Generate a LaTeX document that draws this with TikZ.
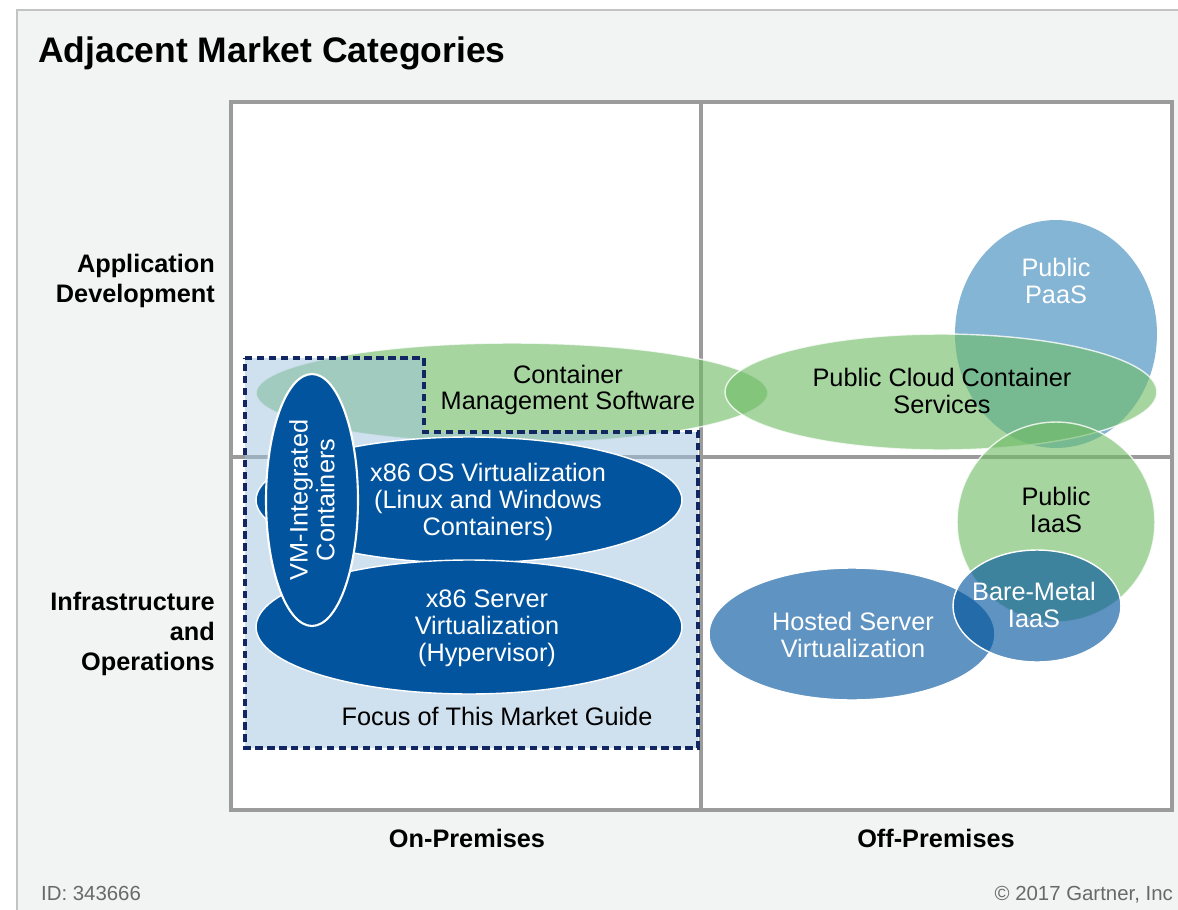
\documentclass[tikz,border=0pt]{standalone}
\usepackage{fontspec}
\setmainfont{Liberation Sans}
\usetikzlibrary{shapes.geometric}
\definecolor{panelgray}{RGB}{242,243,243}
\definecolor{edgegray}{RGB}{195,195,195}
\definecolor{framegray}{RGB}{155,155,155}
\definecolor{leafgreen}{RGB}{112,188,102}
\definecolor{skyblue}{RGB}{133,181,213}
\definecolor{deepblue}{RGB}{2,84,158}
\definecolor{focusblue}{RGB}{160,195,222}
\definecolor{focusnavy}{RGB}{18,38,98}
\definecolor{notegray}{RGB}{105,105,105}

\begin{document}
\begin{tikzpicture}[x=0.02cm, y=-0.02cm,
  blob/.style = {ellipse, inner sep=0pt, draw=white, line width=0.8pt},
  greenblob/.style = {blob, fill=leafgreen, fill opacity=0.62, draw opacity=0.8},
  paleblob/.style = {blob, fill=skyblue, draw=none},
  blueblob/.style = {blob, fill=deepblue, fill opacity=0.63},
  darkblob/.style = {blob, fill=deepblue},
  txt/.style = {align=center, font=\fontsize{14.4}{15.3}\selectfont},
  head/.style = {font=\bfseries\fontsize{14.4}{17}\selectfont},
  note/.style = {text=notegray, font=\fontsize{11.6}{14}\selectfont}]
\useasboundingbox (0,0) rectangle (1178,910);
\fill[white] (0,0) rectangle (1178,910);
\fill[panelgray] (17,10) rectangle (1178,910);
\draw[edgegray, line width=1.2pt] (17,910) -- (17,10) -- (1178,10);
\node[anchor=base west, font=\bfseries\fontsize{20.2}{24}\selectfont] (title) at (32,62) {Adjacent Market Categories};

\draw[framegray, fill=white, line width=2pt] (231,102) rectangle (1172,810);
\draw[framegray, line width=2pt] (701,102) -- (701,810);
\draw[framegray, line width=2pt] (231,457) -- (1172,457);

\node[head, align=right, anchor=east] (appdev) at (221,281) {Application\\Development};
\node[head, align=right, anchor=east] (infraops) at (221,634) {Infrastructure\\and\\Operations};
\node[head] (onprem) at (467,838) {On-Premises};
\node[head] (offprem) at (936,838) {Off-Premises};

\node[greenblob, minimum width=10.24cm, minimum height=2cm] (cms) at (512,393) {};
\fill[focusblue, fill opacity=0.5] (245,358) -- (424,358) -- (424,432) -- (698,432) -- (698,748) -- (245,748) -- cycle;
\node[paleblob, minimum width=4.04cm, minimum height=4.56cm] (paas) at (1056,334) {};
\node[greenblob, minimum width=8.64cm, minimum height=2.32cm] (pccs) at (941,392) {};
\node[greenblob, minimum width=3.96cm, minimum height=4cm] (iaas) at (1056,522) {};
\node[blueblob, minimum width=5.72cm, minimum height=2.64cm] (hosted) at (852,634) {};
\node[blueblob, minimum width=3.36cm, minimum height=2.24cm] (bare) at (1037,606) {};
\node[darkblob, minimum width=8.52cm, minimum height=2.52cm] (osvirt) at (469,500) {};
\node[darkblob, minimum width=8.52cm, minimum height=2.68cm] (srvvirt) at (469,627) {};
\node[darkblob, line width=1.2pt, minimum width=1.84cm, minimum height=5.04cm] (vmint) at (312,500) {};

\draw[focusnavy, line width=1.9pt, dash pattern=on 4.2pt off 2.6pt] (245,358) -- (424,358) -- (424,432) -- (698,432) -- (698,748) -- (245,748) -- cycle;

\node[txt] (cmstext) at (568,390) {Container\\Management Software};
\node[txt, text=white] (paastext) at (1056,281) {Public\\PaaS};
\node[txt] (pccstext) at (942,391) {Public Cloud Container\\Services};
\node[txt] (iaastext) at (1056,510) {Public\\IaaS};
\node[txt, text=white] (baretext) at (1034,605) {Bare-Metal\\IaaS};
\node[txt, text=white] (hostedtext) at (853,635) {Hosted Server\\Virtualization};
\node[txt, text=white] (ostext) at (488,502) {x86 OS Virtualization\\(Linux and Windows\\Containers)};
\node[txt, text=white] (srvtext) at (487,628) {x86 Server\\Virtualization\\(Hypervisor)};
\node[txt, text=white, rotate=90] (vmtext) at (312,500) {VM-Integrated\\Containers};
\node[txt] (focustext) at (497,716) {Focus of This Market Guide};

\node[note, anchor=base west] (docid) at (35,900) {ID: 343666};
\node[note, anchor=base east] (copy) at (1179,900) {© 2017 Gartner, Inc};
\end{tikzpicture}
\end{document}
